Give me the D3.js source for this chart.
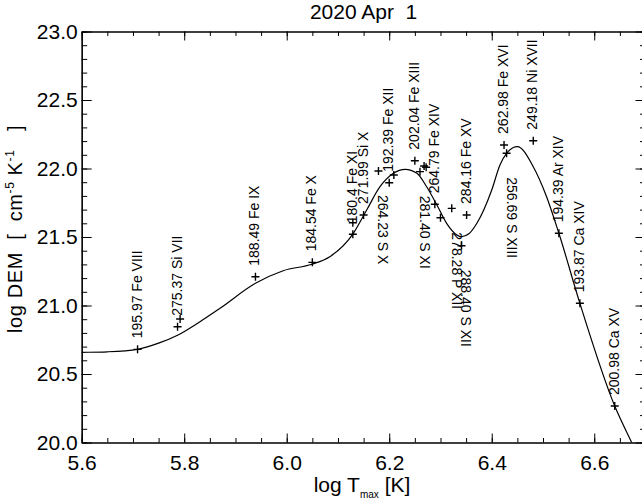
<!DOCTYPE html>
<html>
<head>
<meta charset="utf-8">
<script src="https://cdn.jsdelivr.net/npm/d3@7"></script>
<style>
  body { margin: 0; background: #fff; }
  svg { display: block; }
  text { font-family: "Liberation Sans", Arial, Helvetica, sans-serif; fill: #000; white-space: pre; }
</style>
</head>
<body>
<svg id="chart" width="642" height="501"></svg>
<script>
// Spectral lines: peak formation temperature (log T_max) and DEM loci value
const lineTemp = [5.709, 5.787, 5.792, 5.939, 6.050, 6.129, 6.129, 6.150, 6.179, 6.200, 6.209,
                  6.250, 6.260, 6.268, 6.272, 6.289, 6.322, 6.300, 6.341, 6.351, 6.424, 6.429,
                  6.481, 6.531, 6.572, 6.640];
const lineDem  = [20.680, 20.845, 20.901, 21.210, 21.315, 21.520, 21.604, 21.661, 21.982, 21.896, 21.953,
                  22.057, 21.977, 22.018, 22.009, 21.739, 21.709, 21.641, 21.436, 21.661, 22.172, 22.111,
                  22.203, 21.527, 21.016, 20.266];
const lineLabels = ["195.97 Fe VIII", "275.37 Si VII", "", "188.49 Fe IX", "184.54 Fe X", "180.4 Fe XI", "",
                    "271.99 Si X", "264.23 S X", "192.39 Fe XII", "", "202.04 Fe XIII", "281.40 S XI", "", "",
                    "264.79 Fe XIV", "278.28 P XII", "", "288.40 S XII", "284.16 Fe XV", "262.98 Fe XVI",
                    "256.69 S XIII", "249.18 Ni XVII", "194.39 Ar XIV", "193.87 Ca XIV", "200.98 Ca XV"];
// 1 = label written upward above the point, -1 = written downward below it
const labelSide = [1, 1, 0, 1, 1, 1, 0, 1, -1, 1, 0, 1, -1, 0, 0, 1, -1, 0, -1, 1, 1, -1, 1, 1, 1, 1];

// Smooth DEM solution
const curveTemp = [5.560, 5.600, 5.650, 5.709, 5.750, 5.788, 5.830, 5.870, 5.939, 5.993, 6.049, 6.084,
                   6.130, 6.156, 6.182, 6.208, 6.231, 6.254, 6.273, 6.293, 6.312, 6.332, 6.341,
                   6.356, 6.371, 6.400, 6.416, 6.429, 6.450, 6.481, 6.507, 6.531, 6.572, 6.640,
                   6.673, 6.700];
const curveDem  = [20.656, 20.658, 20.662, 20.680, 20.725, 20.785, 20.880, 20.980, 21.162, 21.254, 21.301, 21.356,
                   21.527, 21.697, 21.867, 21.965, 21.994, 21.965, 21.867, 21.734, 21.600, 21.515, 21.502,
                   21.525, 21.600, 21.843, 22.026, 22.111, 22.159, 22.013, 21.794, 21.527, 21.016, 20.266,
                   20.000, 19.790];

const xMajor = [5.6, 5.8, 6.0, 6.2, 6.4, 6.6];
const xMajorLabels = ["5.6", "5.8", "6.0", "6.2", "6.4", "6.6"];
const yMajor = [20.0, 20.5, 21.0, 21.5, 22.0, 22.5, 23.0];
const yMajorLabels = ["20.0", "20.5", "21.0", "21.5", "22.0", "22.5", "23.0"];
const titleText = "2020 Apr  1";

const svg = d3.select("#chart");
const plotLeft = 81.7, plotRight = 645.5, plotTop = 31.5, plotBottom = 442.5;

const x = d3.scaleLinear().domain([5.6, 6.7]).range([plotLeft, plotRight]);
const y = d3.scaleLinear().domain([20, 23]).range([plotBottom, plotTop]);

const xMinor = d3.range(5.6, 6.7001, 0.05).map(v => +v.toFixed(2));
const yMinor = d3.range(20, 23.0001, 0.1).map(v => +v.toFixed(1));

const majX = 9, minX = 4.5, majY = 10, minY = 5.5;

const axG = svg.append("g").attr("class", "axes");
function styleAxis(g) {
  g.select(".domain").attr("stroke", "#000").attr("stroke-width", 1.2);
  g.selectAll(".tick line").attr("stroke", "#000").attr("stroke-width", 1);
}
function styleLabels(g) {
  g.selectAll("text").attr("font-size", 21).attr("font-family", "Liberation Sans, Arial, sans-serif");
}
// bottom and top axes
axG.append("g").attr("transform", `translate(0,${plotBottom})`)
  .call(d3.axisBottom(x).tickValues(xMinor).tickFormat("").tickSizeInner(-minX).tickSizeOuter(0)).call(styleAxis);
axG.append("g").attr("transform", `translate(0,${plotBottom})`)
  .call(d3.axisBottom(x).tickValues(xMajor).tickFormat((d, i) => xMajorLabels[i]).tickSizeInner(-majX).tickSizeOuter(0).tickPadding(13))
  .call(styleAxis).call(styleLabels);
axG.append("g").attr("transform", `translate(0,${plotTop})`)
  .call(d3.axisTop(x).tickValues(xMinor).tickFormat("").tickSizeInner(-minX).tickSizeOuter(0)).call(styleAxis);
axG.append("g").attr("transform", `translate(0,${plotTop})`)
  .call(d3.axisTop(x).tickValues(xMajor).tickFormat("").tickSizeInner(-majX).tickSizeOuter(0)).call(styleAxis);

// left and right axes
axG.append("g").attr("transform", `translate(${plotLeft},0)`)
  .call(d3.axisLeft(y).tickValues(yMinor).tickFormat("").tickSizeInner(-minY).tickSizeOuter(0)).call(styleAxis);
axG.append("g").attr("transform", `translate(${plotLeft},0)`)
  .call(d3.axisLeft(y).tickValues(yMajor).tickFormat((d, i) => yMajorLabels[i]).tickSizeInner(-majY).tickSizeOuter(0).tickPadding(4))
  .call(styleAxis).call(styleLabels);
axG.append("g").attr("transform", `translate(${plotRight},0)`)
  .call(d3.axisRight(y).tickValues(yMinor).tickFormat("").tickSizeInner(-minY).tickSizeOuter(0)).call(styleAxis);
axG.append("g").attr("transform", `translate(${plotRight},0)`)
  .call(d3.axisRight(y).tickValues(yMajor).tickFormat("").tickSizeInner(-majY).tickSizeOuter(0)).call(styleAxis);

// title and axis titles
svg.append("text").attr("x", (plotLeft + plotRight) / 2).attr("y", 19).attr("text-anchor", "middle")
  .attr("font-size", 21).text(titleText);

const xt = svg.append("text").attr("x", 362).attr("y", 492).attr("text-anchor", "middle").attr("font-size", 21);
xt.append("tspan").text("log T");
xt.append("tspan").attr("font-size", 10).attr("dy", 6).text("max");
xt.append("tspan").attr("dy", -6).text(" [K]");

const yt = svg.append("text").attr("transform", "translate(22,333) rotate(-90)")
  .attr("text-anchor", "start").attr("font-size", 20).attr("letter-spacing", 0.6);
yt.append("tspan").text("log DEM  [  cm");
yt.append("tspan").attr("font-size", 12).attr("dy", -8).text("-5");
yt.append("tspan").attr("dy", 8).text(" K");
yt.append("tspan").attr("font-size", 12).attr("dy", -8).text("-1");
yt.append("tspan").attr("dy", 8).text("   ]");

// clipped plot region
svg.append("clipPath").attr("id", "plotClip").append("rect")
  .attr("x", plotLeft).attr("y", plotTop).attr("width", plotRight - plotLeft).attr("height", plotBottom - plotTop);

const curvePts = curveTemp.map((t, i) => [t, curveDem[i]]);
svg.append("path").attr("clip-path", "url(#plotClip)")
  .attr("d", d3.line().x(d => x(d[0])).y(d => y(d[1])).curve(d3.curveMonotoneX)(curvePts))
  .attr("fill", "none").attr("stroke", "#000").attr("stroke-width", 1.2);

// plus markers
const pts = lineTemp.map((t, i) => ({ t, v: lineDem[i], label: lineLabels[i], side: labelSide[i] }));
const mk = svg.append("g");
const s = 4;
mk.selectAll("path").data(pts).join("path")
  .attr("d", d => `M${x(d.t) - s},${y(d.v)}H${x(d.t) + s}M${x(d.t)},${y(d.v) - s}V${y(d.v) + s}`)
  .attr("stroke", "#000").attr("stroke-width", 1.4);

// line identifications
mk.selectAll("text").data(pts.filter(d => d.label)).join("text")
  .attr("font-size", 14)
  .attr("transform", d => d.side > 0
    ? `translate(${x(d.t) + 4},${y(d.v) - 11}) rotate(-90)`
    : `translate(${x(d.t)},${y(d.v) + 24}) rotate(90)`)
  .text(d => d.label);
</script>
</body>
</html>
